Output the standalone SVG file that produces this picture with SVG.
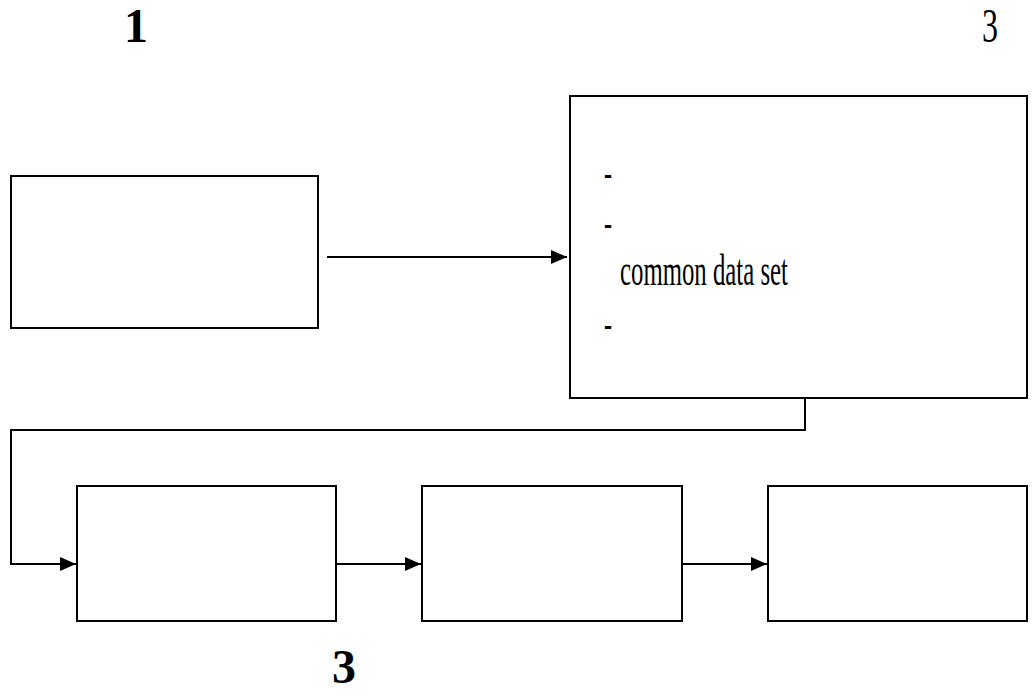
<svg xmlns="http://www.w3.org/2000/svg" width="1032" height="697" viewBox="0 0 1032 697">
<style>
.box{fill:#fff;stroke:#000;stroke-width:2}
.ln{fill:none;stroke:#000;stroke-width:2}
.t{font-family:"Liberation Serif","Times New Roman",serif;fill:#000}
.b{font-weight:bold}
</style>
<defs>
<marker id="ah" markerWidth="16" markerHeight="14" refX="16" refY="7" orient="auto" markerUnits="userSpaceOnUse">
<path d="M0,0 L16,7 L0,14 Z" fill="#000"/>
</marker>
</defs>
<rect width="1032" height="697" fill="#fff"/>
<text class="t b" x="136" y="42" font-size="48" text-anchor="middle">1</text>
<text class="t" x="990" y="42" font-size="48" text-anchor="middle" textLength="16" lengthAdjust="spacingAndGlyphs">3</text>
<text class="t b" x="344" y="683" font-size="48" text-anchor="middle">3</text>
<g id="nodeA"><rect class="box" x="11" y="176" width="307" height="152"/></g>
<g id="nodeB"><rect class="box" x="570" y="96" width="457" height="302"/>
<text class="t" x="604" y="186" font-size="40" textLength="8" lengthAdjust="spacingAndGlyphs">-</text>
<text class="t" x="604" y="236" font-size="40" textLength="8" lengthAdjust="spacingAndGlyphs">-</text>
<text class="t" x="620" y="285" font-size="45" textLength="168" lengthAdjust="spacingAndGlyphs">common data set</text>
<text class="t" x="604" y="337" font-size="40" textLength="8" lengthAdjust="spacingAndGlyphs">-</text>
</g>
<g id="nodeC"><rect class="box" x="77" y="486" width="259" height="135"/></g>
<g id="nodeD"><rect class="box" x="422" y="486" width="260" height="135"/></g>
<g id="nodeE"><rect class="box" x="768" y="486" width="259" height="135"/></g>
<g id="connectors">
<line class="ln" x1="327" y1="257" x2="567" y2="257" marker-end="url(#ah)"/>
<polyline class="ln" points="805,398 805,430 11,430 11,564 76,564" marker-end="url(#ah)"/>
<line class="ln" x1="336" y1="564" x2="421" y2="564" marker-end="url(#ah)"/>
<line class="ln" x1="682" y1="564" x2="767" y2="564" marker-end="url(#ah)"/>
</g>
</svg>
